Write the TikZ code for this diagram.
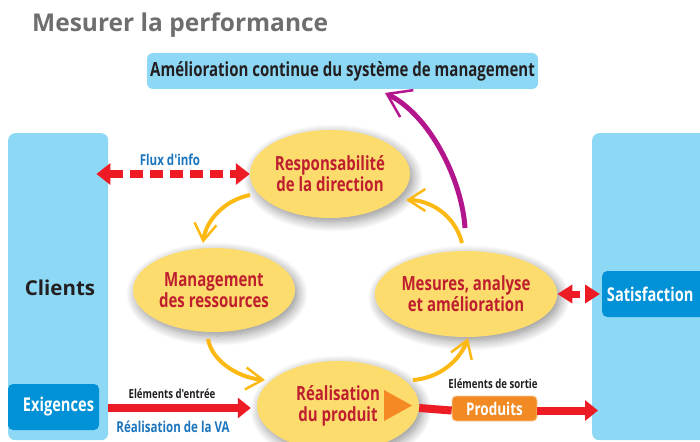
\documentclass[tikz,border=0pt]{standalone}
\usepackage{fontspec}
\setmainfont{Open Sans}
\newfontfamily\cnd[FakeStretch=0.77]{Open Sans}
\usetikzlibrary{arrows.meta,shapes.geometric,shadows.blur,calc}
\definecolor{lblue}{HTML}{8DD8F5}
\definecolor{dblue}{HTML}{0091D6}
\definecolor{ellyellow}{HTML}{FDDC6E}
\definecolor{dred}{HTML}{BE1E2D}
\definecolor{arrred}{HTML}{ED1C24}
\definecolor{lblblue}{HTML}{1C75BC}
\definecolor{orng}{HTML}{F58A25}
\definecolor{prodorange}{HTML}{F18A22}
\definecolor{magent}{HTML}{B3168C}
\definecolor{arryellow}{HTML}{FDB913}
\definecolor{titlegray}{HTML}{6D6E70}
\definecolor{txtblack}{HTML}{231F20}
\begin{document}
\begin{tikzpicture}[x=1pt,y=-1pt,
  col/.style={fill=lblue, rounded corners=7pt, inner sep=0pt, anchor=north west},
  dbox/.style={fill=dblue, rounded corners=5pt, inner sep=0pt, text=white, font=\cnd\bfseries\fontsize{19}{22}\selectfont},
  ell/.style={ellipse, fill=ellyellow, inner sep=0pt, align=center, text=dred,
    font=\cnd\bfseries\fontsize{19.5}{21}\selectfont,
    blur shadow={shadow blur radius=10pt, shadow xshift=3pt, shadow yshift=-4pt, shadow opacity=45, shadow blur steps=12}},
  redarrow/.style={draw=arrred, line width=8pt},
  ylw/.style={draw=arryellow, line width=4pt, -{Straight Barb[length=17pt,width=22pt,line width=2.5pt]}},
  lbl/.style={inner sep=0pt, font=\cnd\bfseries\fontsize{12.5}{14}\selectfont, text=txtblack},
  bluelbl/.style={inner sep=0pt, font=\cnd\bfseries\fontsize{15}{17}\selectfont, text=lblblue}
]
\useasboundingbox (0,0) rectangle (700,441);
\clip (0,0) rectangle (700,441);

% title
\node[anchor=base west, inner sep=0pt, text=titlegray, font=\bfseries\fontsize{24.5}{30}\selectfont] (title) at (32,32) {Mesurer la performance};

% top box
\node[fill=lblue, rounded corners=6pt, minimum width=391, minimum height=36, inner sep=0pt,
  font=\cnd\bfseries\fontsize{19.5}{22}\selectfont, text=txtblack] (top) at (342.5,71) {Amélioration continue du système de management};

% columns
\node[col, minimum width=100, minimum height=307] (clients) at (8,133) {};
\node[col, minimum width=130, minimum height=307] (rcol) at (592,133) {};
\node[inner sep=0pt, font=\bfseries\fontsize{20.5}{26}\selectfont, text=txtblack] (clientslbl) at (60,288) {Clients};

\node[dbox, minimum width=91, minimum height=46] (exig) at (53.5,407) {\hspace*{10pt}Exigences};
\node[dbox, minimum width=110, minimum height=46, anchor=west] (sat) at (602,294) {Satisfaction\hspace*{14pt}};

% ellipses
\node[ell, minimum width=160, minimum height=88] (resp) at (330,174) {Responsabilité\\de la direction};
\node[ell, minimum width=162, minimum height=84] (mgmt) at (214,290) {Management\\des ressources};
\node[ell, minimum width=162, minimum height=86] (mes) at (466,294) {Mesures, analyse\\et amélioration};
\node[ell, minimum width=162, minimum height=90] (real) at (338,406) {Réalisation\\du produit};
\fill[orng] ($(real.center)+(46,-16)$) -- +(28,15.5) -- +(0,31) -- cycle;

% produits box
\node[fill=prodorange, draw=orange!40!white, line width=0.8pt, rounded corners=4pt, minimum width=85, minimum height=25, inner sep=0pt,
  text=white, font=\cnd\bfseries\fontsize{17.5}{20}\selectfont] (prod) at (494.5,408.5) {Produits};

% red arrows
\draw[redarrow, dash pattern=on 13pt off 7pt, {Triangle[length=14pt,width=21pt]}-{Triangle[length=14pt,width=21pt]}]
  ($(clients.east |- resp.west)+(-12,0)$) -- (resp.west);
\draw[line width=7pt, draw=arrred, dash pattern=on 9pt off 5pt, {Triangle[length=15pt,width=18pt]}-{Triangle[length=15pt,width=18pt]}, shorten >=2pt]
  (mes.east) -- (sat.west);
\draw[redarrow, -{Triangle[length=13pt,width=20pt]}] ([yshift=-2pt]clients.east |- real.west) -- ([xshift=-6pt,yshift=-2pt]real.west);
\draw[redarrow] ([yshift=-2pt]real.east) -- ([yshift=-2pt]prod.west);
\draw[redarrow, -{Triangle[length=13pt,width=20pt]}] ([yshift=-2pt]prod.east) -- ([xshift=6pt,yshift=-2pt]prod.east -| rcol.west);

% labels
\node[bluelbl] (flux) at (170,160) {Flux d'info};
\node[lbl] (entree) at (172,394) {Eléments d'entrée};
\node[lbl] (sortie) at (493,384) {Eléments de sortie};
\node[bluelbl] (va) at (173,427) {Réalisation de la VA};

% yellow cycle arrows
\draw[ylw] ($(resp.center)+(-80,21)$) .. controls +(-25,5) and +(3,-23) .. ($(mgmt.center)+(-11,-47)$);
\draw[ylw] ($(mgmt.center)+(-6,49)$) .. controls +(4,23) and +(-25,-2) .. ($(real.center)+(-73,-26)$);
\draw[ylw] ($(real.center)+(75,-26)$) .. controls +(27,-2) and +(-8,22) .. ($(mes.center)+(2,44)$);
\draw[ylw] ($(mes.center)+(-4,-51)$) .. controls +(-7,-28) and +(24,0) .. ($(resp.center)+(76,26)$);

% magenta arrow
\draw[draw=magent, line width=5pt, -{Straight Barb[length=22pt,width=30pt,line width=2.5pt]}]
  ($(mes.center)+(-1,-66)$) .. controls +(-3,-48) and +(45,22) .. ($(top.center)+(42.5,22)$);
\end{tikzpicture}
\end{document}
